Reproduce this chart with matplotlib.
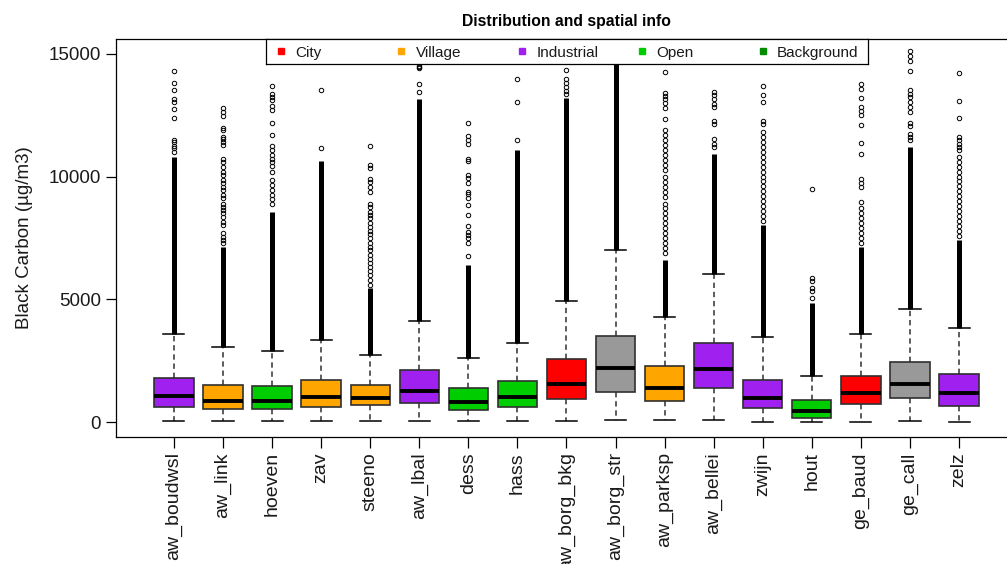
import numpy as np
import matplotlib
matplotlib.use('Agg')
from matplotlib import pyplot as plt

plt.rcParams['font.family'] = ['Liberation Sans', 'DejaVu Sans']

stations = ['aw_boudwsl', 'aw_link', 'hoeven', 'zav', 'steeno', 'aw_lbal', 'dess', 'hass',
            'aw_borg_bkg', 'aw_borg_str', 'aw_parksp', 'aw_bellei', 'zwijn', 'hout',
            'ge_baud', 'ge_call', 'zelz']
site_type = ['Industrial', 'Village', 'Open', 'Village', 'Village', 'Industrial', 'Open', 'Open',
             'City', 'Other', 'Village', 'Industrial', 'Industrial', 'Open',
             'City', 'Other', 'Industrial']

# box statistics (ug/m3)
q1 = [636, 540, 540, 636, 690, 797, 487, 636, 932, 1229, 878, 1378, 581, 189, 743, 973, 676]
med = [1082, 880, 880, 1040, 986, 1270, 838, 1040, 1568, 2216, 1378, 2162, 986, 446, 1189, 1568, 1189]
q3 = [1812, 1527, 1472, 1716, 1527, 2121, 1378, 1675, 2554, 3527, 2270, 3243, 1716, 892, 1865, 2459, 1973]
whis_lo = [53, 53, 53, 53, 53, 53, 53, 53, 53, 108, 108, 108, 14, 14, 14, 53, 14]
whis_hi = [3580, 3053, 2891, 3337, 2756, 4135, 2607, 3243, 4918, 7026, 4270, 6053, 3459, 1878, 3580, 4621, 3838]

# outliers: solid run of points from the whisker up to dense_top, then single points
dense_top = [10800, 7150, 8560, 10650, 5460, 13160, 6400, 11070, 13200, 15300,
             6610, 10930, 8030, 4850, 7150, 11200, 7420]
sparse = [
    [11000, 11150, 11250, 11400, 11500, 12390, 12760, 13030, 13160, 13530, 13820, 14310],
    [7290, 7420, 7550, 7690, 8030, 8160, 8370, 8500, 8640, 8770, 8900, 9110, 9240, 9450, 9580,
     9720, 9850, 10050, 10190, 10390, 10600, 10730, 11270, 11400, 11510, 11610, 11880, 11990,
     12450, 12620, 12800],
    [8900, 9070, 9240, 9450, 9650, 9850, 10190, 10420, 10600, 10730, 10870, 11070, 11230, 11680,
     12190, 12690, 12890, 13100, 13230, 13370, 13700],
    [11180, 13530],
    [5600, 5800, 6000, 6150, 6300, 6500, 6650, 6800, 7000, 7150, 7300, 7500, 7650, 7800, 7950,
     8100, 8300, 8430, 8570, 8770, 8900, 9380, 9580, 9780, 9920, 10330, 10460, 11230],
    [13430, 13770, 14400, 14450, 14500],
    [6770, 7290, 7490, 7620, 7760, 7990, 8430, 8840, 9110, 9280, 9380, 9720, 9960, 10050, 10640,
     10730, 11340, 11470, 11640, 12180],
    [11500, 13040, 13970],
    [13350, 13500, 13650, 13800, 13970, 14340],
    [],
    [6880, 7080, 7280, 7490, 7690, 7890, 8090, 8300, 8500, 8700, 8900, 9180, 9380, 9580, 9780,
     9990, 10260, 10460, 10660, 10870, 11070, 11270, 11470, 11680, 11910, 12330, 12780, 13000,
     13140, 13270, 13410, 14240],
    [11200, 11340, 11540, 12150, 12280, 12830, 12960, 13160, 13300, 13430],
    [8200, 8400, 8600, 8800, 9000, 9200, 9400, 9600, 9800, 10000, 10200, 10400, 10600, 10800,
     11000, 11200, 11400, 11600, 11810, 12150, 12280, 13030, 13300, 13700],
    [5060, 5330, 5460, 5730, 5870, 9510],
    [7300, 7500, 7700, 7900, 8100, 8300, 8500, 8700, 8970, 9580, 9720, 9920, 10930, 11360, 12080,
     12500, 12660, 12820, 13190, 13570, 13770],
    [11470, 11610, 11740, 12060, 12190, 12620, 12830, 13030, 13230, 13370, 13530, 14310, 14720,
     14920, 15120],
    [7600, 7800, 8000, 8200, 8400, 8600, 8800, 9000, 9200, 9400, 9600, 9800, 10000, 10200, 10400,
     10600, 10800, 11070, 11200, 11340, 11470, 11610, 12390, 13090, 14220],
]

legend_labels = ['City', 'Village', 'Industrial', 'Open', 'Background']
legend_colors = ['#FF0000', '#FFA500', '#A020F0', '#00CD00', '#008B00']
type_colors = {'City': '#FF0000', 'Village': '#FFA500', 'Industrial': '#A020F0',
               'Open': '#00CD00', 'Background': '#008B00', 'Other': '#999999'}

fig = plt.figure(figsize=(10.07, 5.64), dpi=100)
ax = fig.add_axes([0.1152, 0.2252, 0.8947, 0.7057])

pos = np.arange(1, len(stations) + 1)
stats = []
for i in range(len(stations)):
    stats.append(dict(med=med[i], q1=q1[i], q3=q3[i], whislo=whis_lo[i], whishi=whis_hi[i],
                      fliers=np.array(sparse[i], dtype=float)))

# solid outlier runs first, so boxes and caps sit on top
ax.vlines(pos, whis_hi, dense_top, color='black', linewidth=3.6, zorder=1.5)

bp = ax.bxp(stats, positions=pos, widths=0.8, capwidths=0.43, patch_artist=True,
            boxprops=dict(edgecolor='#303030', linewidth=1.2),
            medianprops=dict(color='black', linewidth=2.8, solid_capstyle='butt'),
            whiskerprops=dict(color='#303030', linewidth=1.1, linestyle=(0, (3.5, 2.5))),
            capprops=dict(color='black', linewidth=1.1),
            flierprops=dict(marker='o', markerfacecolor='none', markeredgecolor='black',
                            markersize=3.2, markeredgewidth=0.7))
for patch, t in zip(bp['boxes'], site_type):
    patch.set_facecolor(type_colors[t])

ax.set_xlim(-0.18, 18.18)
ax.set_ylim(-600, 15600)
ax.set_yticks([0, 5000, 10000, 15000])
ax.set_xticks(pos)
ax.set_xticklabels(stations, rotation=90, fontsize=14, color='#1a1a1a')
ax.tick_params(axis='y', labelsize=13.5, labelcolor='#1a1a1a', length=7, width=0.9, pad=4)
ax.tick_params(axis='x', length=8, width=0.9, pad=3)
for s in ax.spines.values():
    s.set_linewidth(0.9)
ax.set_ylabel('Black Carbon (µg/m3)', fontsize=13.5, color='#1a1a1a')
ax.yaxis.set_label_coords(-0.092, 0.5)
ax.set_title('Distribution and spatial info', fontsize=11.3, fontweight='bold', pad=9)

# horizontal legend along the top edge
lax = fig.add_axes([0.2641, 0.8865, 0.5978, 0.0444])
lax.set_xlim(0, 5)
lax.set_ylim(0, 1)
lax.set_xticks([])
lax.set_yticks([])
for s in lax.spines.values():
    s.set_linewidth(0.9)
for i, (lab, col) in enumerate(zip(legend_labels, legend_colors)):
    lax.plot(i + 0.125, 0.5, 's', color=col, markersize=5)
    lax.text(i + 0.245, 0.45, lab, va='center', ha='left', fontsize=11, color='#1a1a1a')

plt.savefig('out.png', dpi=100)
